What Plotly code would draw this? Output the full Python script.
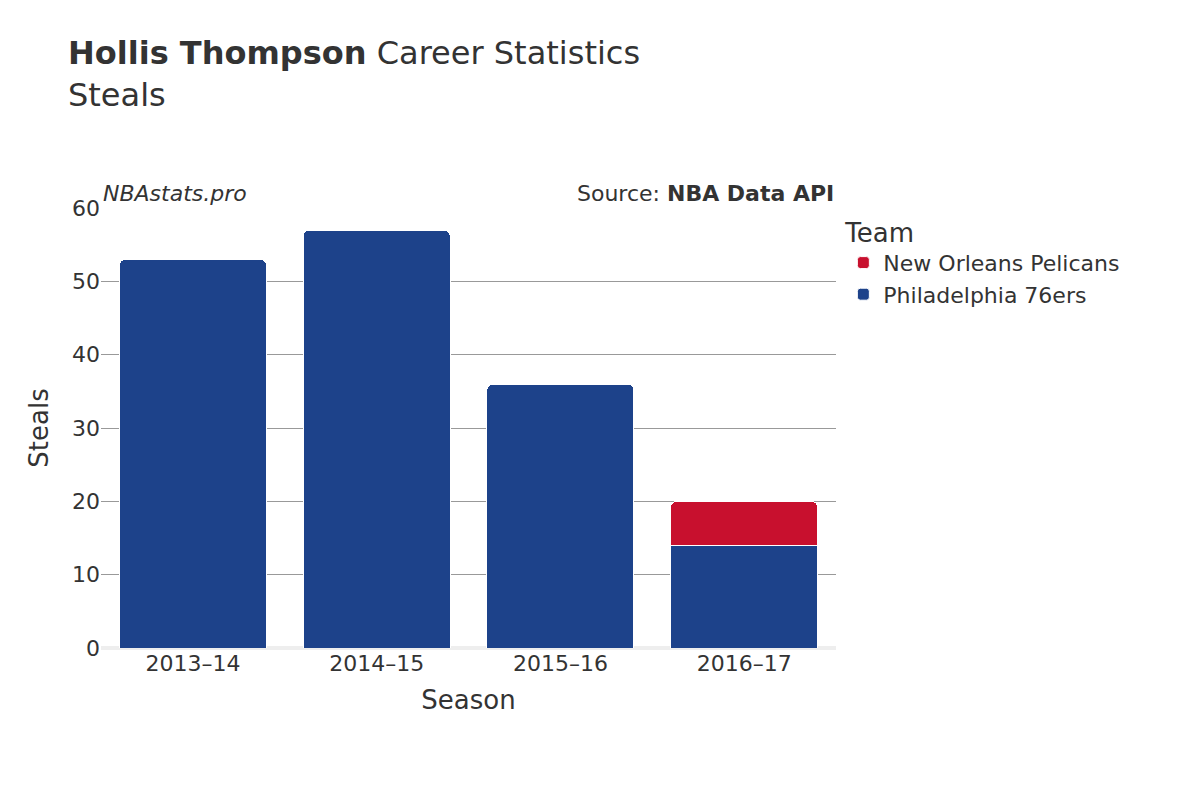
import plotly.graph_objects as go

seasons = ["2013–14", "2014–15", "2015–16", "2016–17"]
phi_steals = [53, 57, 36, 14]
nop_steals = [0, 0, 0, 6]

fig = go.Figure()
fig.add_trace(go.Bar(x=seasons, y=phi_steals, name="Philadelphia 76ers",
                     marker=dict(color="#1D428A", line=dict(color="white", width=1))))
fig.add_trace(go.Bar(x=seasons, y=nop_steals, name="New Orleans Pelicans",
                     marker=dict(color="#C8102E", line=dict(color="white", width=1))))

fig.update_layout(
    barmode="stack",
    barcornerradius=6,
    width=1200, height=800,
    font=dict(family="DejaVu Sans", size=20, color="#333333"),
    plot_bgcolor="white", paper_bgcolor="white",
    margin=dict(l=93, r=372, t=200, b=160),
    title=dict(text="<b>Hollis Thompson</b> Career Statistics<br>Steals",
               x=0.05, xanchor="left", y=0.93, yanchor="top", font=dict(size=32)),
    legend=dict(title=dict(text="Team", font=dict(size=26)), x=1.01, y=1.0,
                yanchor="top", font=dict(size=22)),
    xaxis=dict(title=dict(text="Season", font=dict(size=26)), tickfont=dict(size=22)),
    yaxis=dict(title=dict(text="Steals", font=dict(size=26)), range=[0, 60],
               tickfont=dict(size=22), gridcolor="#999999", zeroline=True,
               zerolinecolor="#eeeeee", zerolinewidth=4, dtick=10),
    bargap=0.2,
)
fig.add_annotation(text="<i>NBAstats.pro</i>", xref="paper", yref="paper",
                   x=0.0, y=1.0, xanchor="left", yanchor="bottom", showarrow=False,
                   font=dict(size=22))
fig.add_annotation(text="Source: <b>NBA Data API</b>", xref="paper", yref="paper",
                   x=1.0, y=1.0, xanchor="right", yanchor="bottom", showarrow=False,
                   font=dict(size=22))
fig.write_html("out.html")
